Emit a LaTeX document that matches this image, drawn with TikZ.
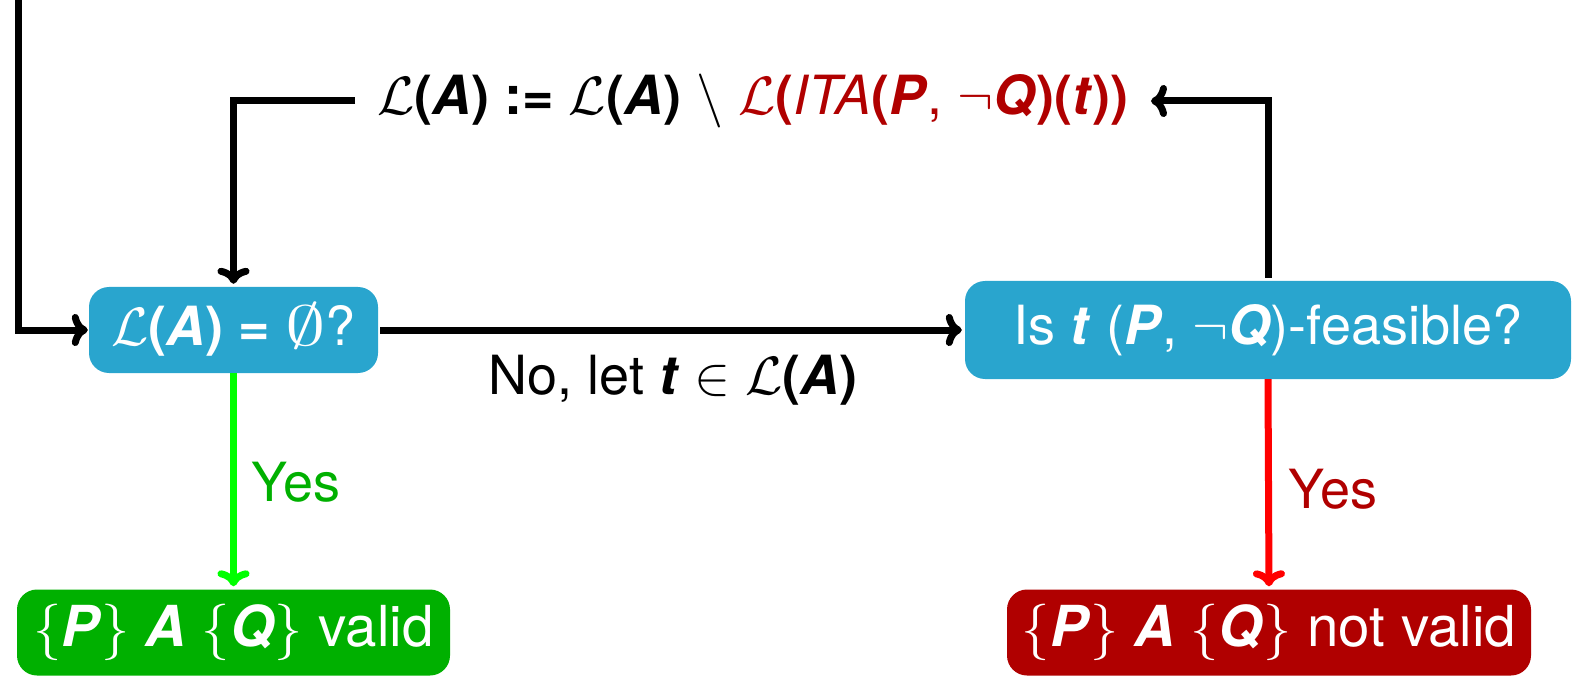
\documentclass[tikz,border=0pt]{standalone}
\usepackage{fix-cm}
\usepackage{fontspec}
\setmainfont{TeX Gyre Heros}
\usetikzlibrary{arrows.meta}
\definecolor{boxblue}{RGB}{41,165,206}
\definecolor{okgreen}{RGB}{0,176,0}
\definecolor{darkred}{RGB}{176,0,0}
\newcommand\bfit[1]{\textbf{\textit{#1}}}
\newcommand\cL{$\mathcal{L}$}
\newcommand\lp{\textbf{(}}
\newcommand\rp{\textbf{)}}
\newcommand\myempty{\scalebox{1.5}[1.05]{$\emptyset$}}
\newcommand\hoare{$\{$\bfit{P}$\}$ \bfit{A} $\{$\bfit{Q}$\}$}
\begin{document}
\begin{tikzpicture}[x=1pt,y=-1pt,
  font=\fontsize{54}{60}\selectfont,
  box/.style={rounded corners=20pt, inner sep=0pt, text=white},
  endbox/.style={box, minimum height=86pt, font=\fontsize{56.5}{62}\selectfont},
  conn/.style={line width=7pt, -{Computer Modern Rightarrow[length=16pt,width=32pt]}}]
\useasboundingbox (0,0) rectangle (1582,676);

\node[box, fill=boxblue, minimum width=289pt, minimum height=86pt] (b1) at (233.5,330)
  {\cL\lp\bfit{A}\rp{} \textbf{=} \myempty?};
\node[box, fill=boxblue, minimum width=606pt, minimum height=98pt] (b2) at (1268,330)
  {Is \bfit{t} (\bfit{P}, $\neg$\bfit{Q})-feasible?};
\node[endbox, fill=okgreen, minimum width=433pt] (ok) at (233.5,632.5)
  {\hoare{} valid};
\node[endbox, fill=darkred, minimum width=524pt] (bad) at (1269,632.5)
  {\hoare{} not valid};

\node[inner xsep=22pt, inner ysep=0pt] (upd) at (753,101)
  {\cL\lp\bfit{A}\rp{} \textbf{:=} \cL\lp\bfit{A}\rp{} $\setminus$ \textcolor{darkred}{\cL\lp\textit{ITA}\lp\bfit{P}, $\neg$\bfit{Q}\rp\lp\bfit{t}\rp\rp}};

\node (nolab) at (673,380) {No, let \bfit{t} $\in$ \cL\lp\bfit{A}\rp};
\node[text=okgreen] (yes1) at (296,482) {Yes};
\node[text=darkred] (yes2) at (1333,489) {Yes};

\coordinate (start) at (18,0);
\draw[conn, shorten >=1pt] (start) |- (b1.west);
\draw[conn, shorten >=3pt] (upd.west) -| (b1.north);
\draw[conn, shorten <=3pt] (b2.north) |- (upd.east);
\draw[conn, shorten <=2pt, shorten >=3pt] (b1.east) -- (b2.west);
\draw[conn, draw=green, shorten >=3pt] (b1.south) -- (ok.north);
\draw[conn, draw=red, shorten >=3pt] (b2.south) -- (bad.north);
\end{tikzpicture}
\end{document}
